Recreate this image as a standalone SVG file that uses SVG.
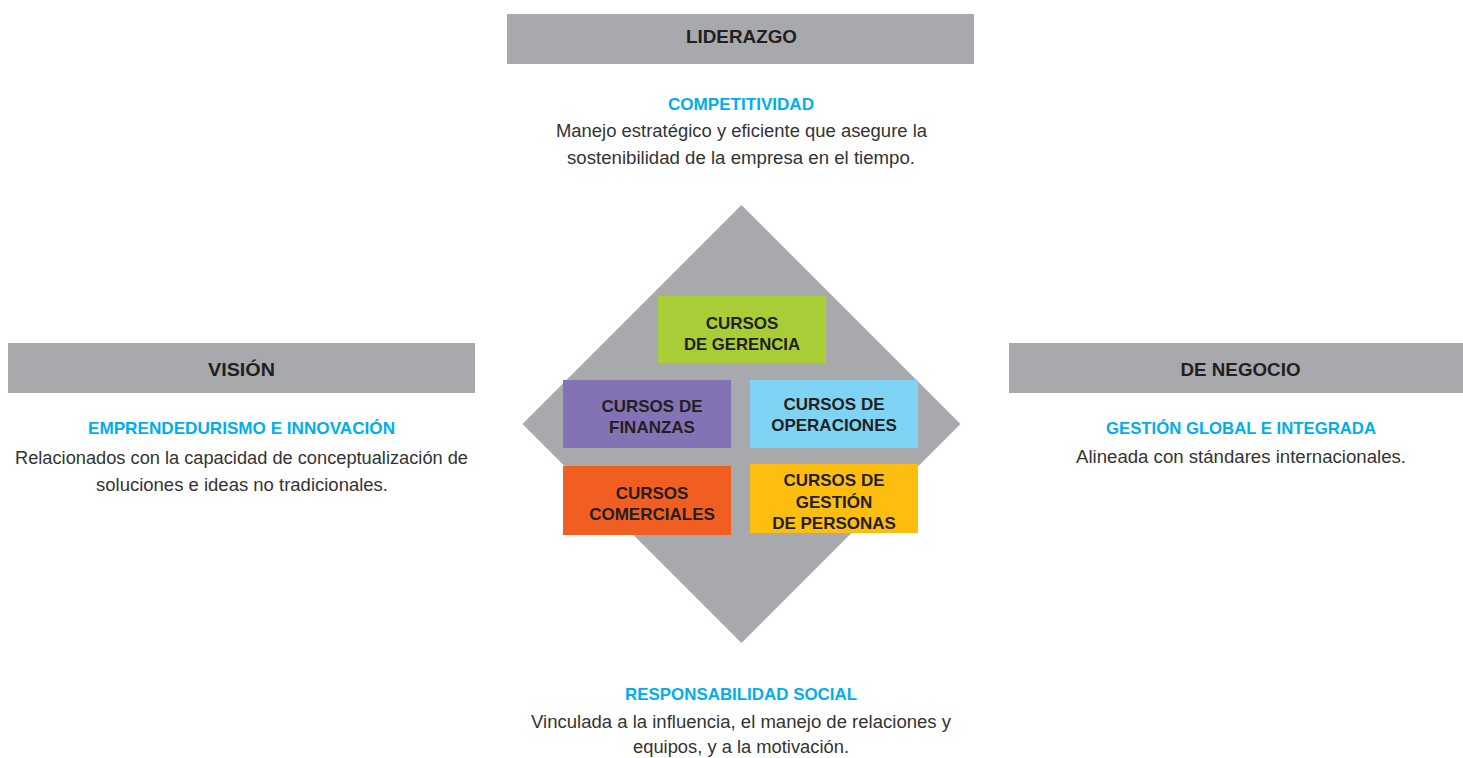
<svg xmlns="http://www.w3.org/2000/svg" width="1463" height="758" viewBox="0 0 1463 758">
<style>
.bar{fill:#A7A9AC}
.bt{font-family:"Liberation Sans",Arial,sans-serif;font-weight:bold;font-size:18.5px;fill:#231F20;text-anchor:middle}
.hd{font-family:"Liberation Sans",Arial,sans-serif;font-weight:bold;font-size:17px;fill:#00AEEF;text-anchor:middle}
.tx{font-family:"Liberation Sans",Arial,sans-serif;font-size:17.5px;fill:#333333;text-anchor:middle}
.ct{font-family:"Liberation Sans",Arial,sans-serif;font-weight:bold;font-size:17px;fill:#231F20;text-anchor:middle}
</style>
<rect width="1463" height="758" fill="#FFFFFF"/>
<g id="liderazgo">
<rect class="bar" x="507" y="14" width="467" height="50"/>
<text class="bt" x="741.5" y="43" textLength="111" lengthAdjust="spacingAndGlyphs">LIDERAZGO</text>
<text class="hd" x="741" y="110" textLength="146" lengthAdjust="spacingAndGlyphs">COMPETITIVIDAD</text>
<text class="tx" x="741.5" y="137" textLength="371" lengthAdjust="spacingAndGlyphs">Manejo estratégico y eficiente que asegure la</text>
<text class="tx" x="741" y="164" textLength="348" lengthAdjust="spacingAndGlyphs">sostenibilidad de la empresa en el tiempo.</text>
</g>
<g id="vision">
<rect class="bar" x="8" y="343" width="467" height="50"/>
<text class="bt" x="241.5" y="375.5" textLength="67" lengthAdjust="spacingAndGlyphs">VISIÓN</text>
<text class="hd" x="241.5" y="434" textLength="307" lengthAdjust="spacingAndGlyphs">EMPRENDEDURISMO E INNOVACIÓN</text>
<text class="tx" x="241.5" y="464" textLength="453" lengthAdjust="spacingAndGlyphs">Relacionados con la capacidad de conceptualización de</text>
<text class="tx" x="242" y="491" textLength="292" lengthAdjust="spacingAndGlyphs">soluciones e ideas no tradicionales.</text>
</g>
<g id="negocio">
<rect class="bar" x="1009" y="343" width="454" height="50"/>
<text class="bt" x="1240.5" y="375.5" textLength="120" lengthAdjust="spacingAndGlyphs">DE NEGOCIO</text>
<text class="hd" x="1241" y="434" textLength="270" lengthAdjust="spacingAndGlyphs">GESTIÓN GLOBAL E INTEGRADA</text>
<text class="tx" x="1241" y="463" textLength="330" lengthAdjust="spacingAndGlyphs">Alineada con stándares internacionales.</text>
</g>
<g id="responsabilidad">
<text class="hd" x="741" y="700" textLength="232" lengthAdjust="spacingAndGlyphs">RESPONSABILIDAD SOCIAL</text>
<text class="tx" x="741" y="727.5" textLength="420" lengthAdjust="spacingAndGlyphs">Vinculada a la influencia, el manejo de relaciones y</text>
<text class="tx" x="741" y="753" textLength="216" lengthAdjust="spacingAndGlyphs">equipos, y a la motivación.</text>
</g>
<g id="diamond">
<polygon points="741.5,205 960.5,424 741.5,643 522.5,424" fill="#A7A9AC"/>
</g>
<g id="gerencia">
<rect x="658" y="296" width="168" height="67" fill="#A9CD37"/>
<text class="ct" x="742" y="328.5">CURSOS</text>
<text class="ct" x="742" y="349.5" textLength="116" lengthAdjust="spacingAndGlyphs">DE GERENCIA</text>
</g>
<g id="finanzas">
<rect x="563" y="380" width="168" height="68" fill="#8473B4"/>
<text class="ct" x="652" y="411.5">CURSOS DE</text>
<text class="ct" x="652" y="432.5">FINANZAS</text>
</g>
<g id="operaciones">
<rect x="750" y="380" width="168" height="68" fill="#7FD3F5"/>
<text class="ct" x="834" y="410">CURSOS DE</text>
<text class="ct" x="834" y="431">OPERACIONES</text>
</g>
<g id="comerciales">
<rect x="563" y="466" width="168" height="69" fill="#F15E22"/>
<text class="ct" x="652" y="499">CURSOS</text>
<text class="ct" x="652" y="520">COMERCIALES</text>
</g>
<g id="personas">
<rect x="750" y="464" width="168" height="69" fill="#FDBE10"/>
<text class="ct" x="834" y="486">CURSOS DE</text>
<text class="ct" x="834" y="507.5">GESTIÓN</text>
<text class="ct" x="834" y="529">DE PERSONAS</text>
</g>
<g id="connectors"/>
</svg>
